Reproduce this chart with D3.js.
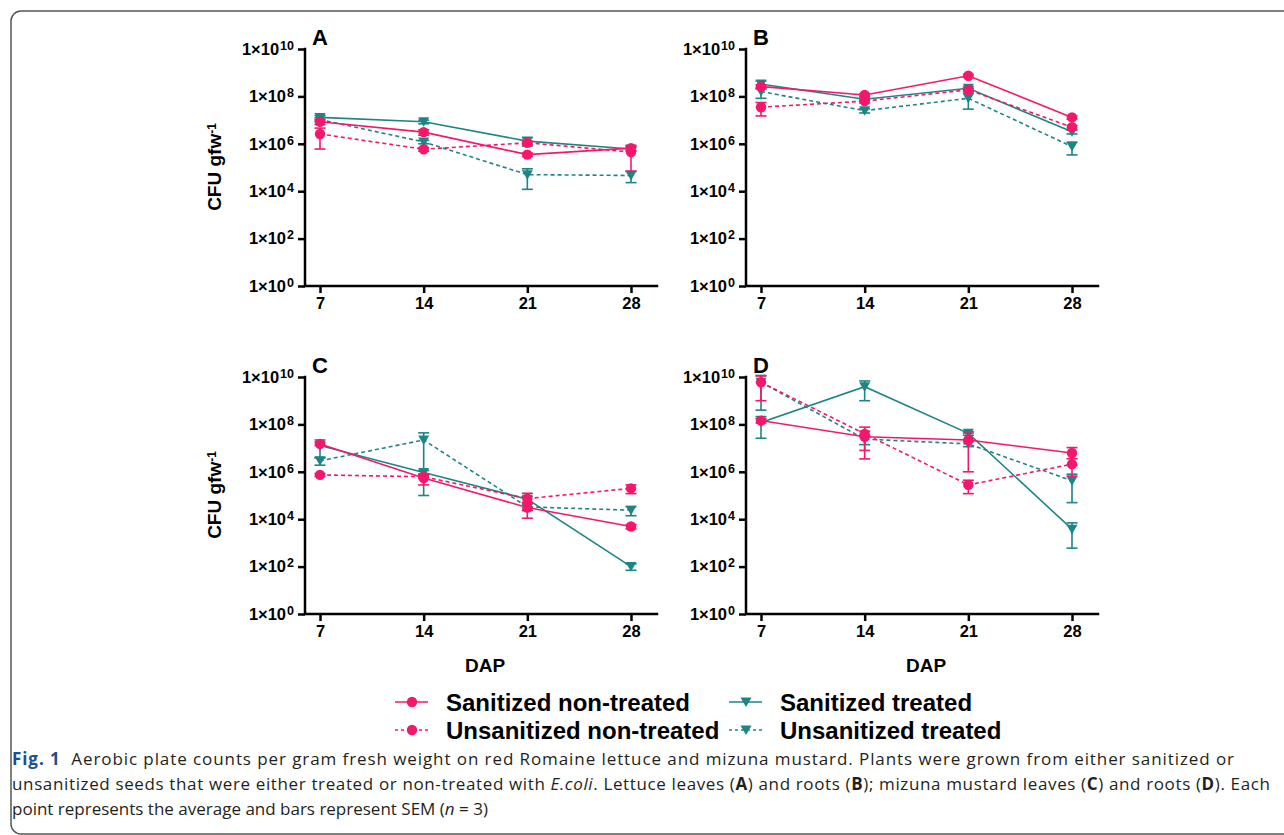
<!DOCTYPE html>
<html lang="en">
<head>
<meta charset="UTF-8">
<title>Aerobic plate counts - lettuce and mizuna</title>
<script src="https://d3js.org/d3.v7.min.js"></script>
<style>
  body { margin: 0; background: #fff; }
  svg { display: block; font-family: "Liberation Sans", Arial, sans-serif; }
  .axis-line { stroke: #000; stroke-width: 2.5; fill: none; stroke-linecap: square; }
  .axis .tick line { stroke: #000; stroke-width: 2.5; }
  .axis .tick text { fill: #000; font-weight: bold; }
  .y-axis .tick text { font-size: 16.5px; }
  .x-axis .tick text { font-size: 16.5px; }
  .panel-letter { font-size: 22px; font-weight: bold; }
  .axis-title { font-size: 19px; font-weight: bold; }
  .legend text { font-size: 24px; font-weight: bold; }
  .caption { font-family: "Open Sans", "Noto Sans", sans-serif; font-size: 17px; fill: #231f20; }
</style>
</head>
<body>
<svg></svg>
<script>
// days after planting
const days = [7, 14, 21, 28];
const yTickPowers = [0, 2, 4, 6, 8, 10];
const seriesNames = ["Sanitized non-treated", "Unsanitized non-treated", "Sanitized treated", "Unsanitized treated"];

// rows: Sanitized non-treated, Unsanitized non-treated, Sanitized treated, Unsanitized treated
// A: lettuce leaves
const meansA = [
  [8.5e6, 3.1e6, 3.5e5, 6.6e5],
  [2.6e6, 5.9e5, 1.1e6, 4.5e5],
  [1.3e7, 8.5e6, 1.3e6, 6.0e5],
  [1.05e7, 1.2e6, 5.0e4, 4.6e4]
];
const semA = [
  [2.0e6, 8.0e5, 6.0e4, 1.5e5],
  [2.0e6, 1.0e5, 2.0e5, 3.8e5],
  [3.0e6, 1.5e6, 5.0e5, 1.0e5],
  [2.0e6, 2.0e5, 3.8e4, 2.3e4]
];
// B: lettuce roots
const meansB = [
  [2.6e8, 1.15e8, 7.4e8, 1.3e7],
  [3.5e7, 6.3e7, 1.9e8, 5.0e6],
  [3.3e8, 7.6e7, 2.2e8, 3.2e6],
  [1.6e8, 2.5e7, 8.3e7, 7.6e5]
];
const semB = [
  [5.0e7, 1.5e7, 1.0e8, 2.0e6],
  [2.0e7, 1.0e7, 3.0e7, 1.0e6],
  [1.2e8, 1.0e7, 4.0e7, 6.0e5],
  [7.7e7, 5.0e6, 5.4e7, 4.2e5]
];
// C: mizuna leaves
const meansC = [
  [1.5e7, 5.5e5, 3.1e4, 4.9e3],
  [7.4e5, 6.2e5, 7.4e4, 2.0e5],
  [1.3e7, 9.4e5, 7.0e4, 1.0e2],
  [2.9e6, 2.2e7, 3.3e4, 2.4e4]
];
const semC = [
  [2.0e6, 2.7e5, 2.0e4, 1.0e3],
  [1.0e5, 1.0e5, 5.0e4, 8.0e4],
  [9.0e6, 2.0e5, 2.0e4, 3.0e1],
  [1.0e6, 2.19e7, 1.0e4, 1.0e4]
];
// D: mizuna roots
const meansD = [
  [1.45e8, 3.0e7, 2.2e7, 6.2e6],
  [6.0e9, 4.0e7, 2.8e5, 2.1e6],
  [1.2e8, 3.9e9, 4.2e7, 3.8e3],
  [6.0e9, 2.4e7, 1.5e7, 4.2e5]
];
const semD = [
  [3.0e7, 2.2e7, 2.1e7, 4.3e6],
  [5.0e9, 3.65e7, 1.6e5, 1.44e6],
  [9.4e7, 2.9e9, 7.0e6, 3.2e3],
  [5.6e9, 1.0e7, 3.5e6, 3.7e5]
];

const width = 1284, height = 835;
const pink = "#f5176b", teal = "#1d8585";
const plotW = 352, plotH = 237;

const svg = d3.select("svg").attr("width", width).attr("height", height);

// page frame
svg.append("path")
    .attr("d", "M1300,11 H21 A10,10 0 0 0 11,21 V824 A10,10 0 0 0 21,834 H1300")
    .attr("fill", "none")
    .attr("stroke", "#555")
    .attr("stroke-width", 1.5);

const styles = seriesNames.map((name, i) => ({
  name: name,
  color: i < 2 ? pink : teal,
  dashed: i % 2 === 1,
  shape: i < 2 ? "circle" : "triangle"
}));

const panels = [
  { letter: "A", means: meansA, sem: semA, left: 305, top: 49, yTitle: true, xTitle: false },
  { letter: "B", means: meansB, sem: semB, left: 746, top: 49, yTitle: false, xTitle: false },
  { letter: "C", means: meansC, sem: semC, left: 305, top: 377, yTitle: true, xTitle: true },
  { letter: "D", means: meansD, sem: semD, left: 746, top: 377, yTitle: false, xTitle: true }
];

const x = d3.scaleLinear().domain([7, 28]).range([15, 326]);
const y = d3.scaleLog().domain([1, 1e10]).range([plotH, 0]);

function drawMarker(sel, shape, color) {
  if (shape === "circle") {
    sel.append("circle").attr("r", 5.2).attr("fill", color);
  } else {
    sel.append("path").attr("d", "M-5.5,-4.5L5.5,-4.5L0,5Z").attr("fill", color);
  }
}

panels.forEach(p => {
  const g = svg.append("g").attr("transform", `translate(${p.left},${p.top})`);

  // y axis
  const yAxis = g.append("g").attr("class", "axis y-axis")
      .call(d3.axisLeft(y)
        .tickValues(yTickPowers.map(k => Math.pow(10, k)))
        .tickSize(7)
        .tickPadding(4)
        .tickFormat(() => ""));
  yAxis.select(".domain").remove();
  yAxis.selectAll(".tick text").each(function(d) {
    const t = d3.select(this);
    t.append("tspan").text("1×10");
    t.append("tspan").attr("dy", "-0.4em").attr("font-size", "12.5px").attr("dx", "1")
        .text(Math.round(Math.log10(d)));
  });

  // x axis
  const xAxis = g.append("g").attr("class", "axis x-axis")
      .attr("transform", `translate(0,${plotH})`)
      .call(d3.axisBottom(x).tickValues(days).tickSize(7).tickPadding(4).tickFormat(d3.format("d")));
  xAxis.select(".domain").remove();

  g.append("path").attr("class", "axis-line")
      .attr("d", `M0,0 V${plotH} H${plotW}`);

  // panel letter
  g.append("text").attr("class", "panel-letter")
      .attr("x", 7).attr("y", -4).text(p.letter);

  if (p.yTitle) {
    const yt = g.append("text").attr("class", "axis-title")
        .attr("text-anchor", "middle")
        .attr("transform", `translate(-84,118) rotate(-90)`);
    yt.append("tspan").text("CFU gfw");
    yt.append("tspan").attr("dy", "-0.45em").attr("font-size", "12px").text("-1");
  }

  if (p.xTitle) {
    g.append("text").attr("class", "axis-title")
        .attr("text-anchor", "middle")
        .attr("font-size", "18px")
        .attr("x", 180).attr("y", plotH + 58).text("DAP");
  }

  // series: teal first, pink on top
  [3, 2, 1, 0].forEach(i => {
    const st = styles[i];
    const m = p.means[i], s = p.sem[i];
    const sg = g.append("g");

    sg.append("path")
        .datum(m)
        .attr("fill", "none")
        .attr("stroke", st.color)
        .attr("stroke-width", 1.6)
        .attr("stroke-dasharray", st.dashed ? "4,3" : null)
        .attr("d", d3.line().x((d, j) => x(days[j])).y(d => y(d)));

    m.forEach((v, j) => {
      const cx = x(days[j]);
      const hi = v + s[j], lo = v - s[j];
      const yHi = y(hi), yLo = lo > 0 ? y(lo) : y(v);
      sg.append("line").attr("x1", cx).attr("x2", cx).attr("y1", yHi).attr("y2", yLo)
          .attr("stroke", st.color).attr("stroke-width", 1.6);
      sg.append("line").attr("x1", cx - 5.5).attr("x2", cx + 5.5).attr("y1", yHi).attr("y2", yHi)
          .attr("stroke", st.color).attr("stroke-width", 1.6);
      if (lo > 0) {
        sg.append("line").attr("x1", cx - 5.5).attr("x2", cx + 5.5).attr("y1", yLo).attr("y2", yLo)
            .attr("stroke", st.color).attr("stroke-width", 1.6);
      }
    });

    m.forEach((v, j) => {
      const mk = sg.append("g").attr("transform", `translate(${x(days[j])},${y(v)})`);
      drawMarker(mk, st.shape, st.color);
    });
  });
});

// legend
const legend = svg.append("g").attr("class", "legend");
const legendPos = [
  { lx: 395, ly: 702 },
  { lx: 395, ly: 730 },
  { lx: 729, ly: 702 },
  { lx: 729, ly: 730 }
];
styles.forEach((st, i) => {
  const pos = legendPos[i];
  const lg = legend.append("g").attr("transform", `translate(${pos.lx},${pos.ly})`);
  lg.append("line").attr("x1", 0).attr("x2", 33).attr("y1", 0).attr("y2", 0)
      .attr("stroke", st.color).attr("stroke-width", 1.6)
      .attr("stroke-dasharray", st.dashed ? "3,3" : null);
  const mk = lg.append("g").attr("transform", "translate(17,0)");
  drawMarker(mk, st.shape, st.color);
  lg.append("text").attr("x", 51).attr("y", 8.5).text(st.name);
});

// caption (first two lines justified to the full width)
const cap = svg.append("g").attr("class", "caption");
const l1 = cap.append("text").attr("x", 12).attr("y", 765)
    .attr("textLength", 1222).attr("lengthAdjust", "spacing");
l1.append("tspan").attr("font-weight", "bold").attr("fill", "#1b4f8f").text("Fig. 1");
l1.append("tspan").text("\u00a0\u00a0Aerobic plate counts per gram fresh weight on red Romaine lettuce and mizuna mustard. Plants were grown from either sanitized or");

const l2 = cap.append("text").attr("x", 12).attr("y", 790)
    .attr("textLength", 1258).attr("lengthAdjust", "spacing");
[
  ["unsanitized seeds that were either treated or non-treated with ", null],
  ["E.coli", "italic"],
  [". Lettuce leaves (", null], ["A", "bold"], [") and roots (", null], ["B", "bold"],
  ["); mizuna mustard leaves (", null], ["C", "bold"], [") and roots (", null], ["D", "bold"],
  ["). Each", null]
].forEach(([t, f]) => {
  const ts = l2.append("tspan").text(t);
  if (f === "italic") ts.attr("font-style", "italic");
  if (f === "bold") ts.attr("font-weight", "bold");
});

const l3 = cap.append("text").attr("x", 12).attr("y", 815);
l3.append("tspan").text("point represents the average and bars represent SEM (");
l3.append("tspan").attr("font-style", "italic").text("n");
l3.append("tspan").text(" = 3)");
</script>
</body>
</html>
